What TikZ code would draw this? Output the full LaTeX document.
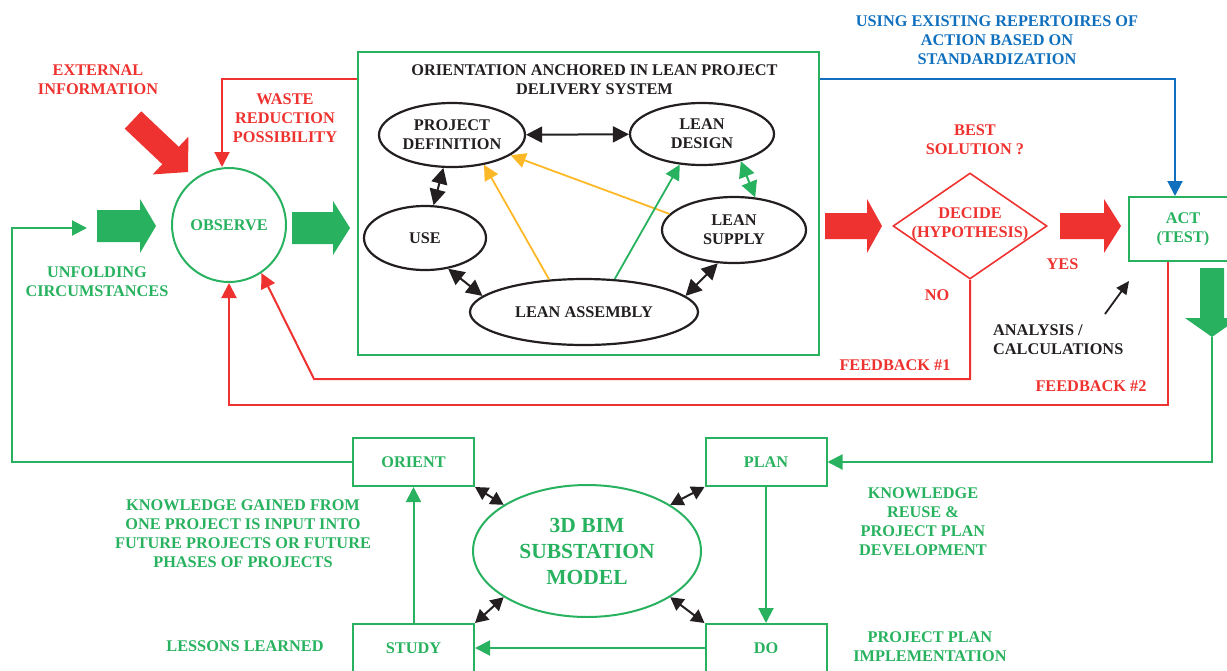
\documentclass[tikz,border=0pt]{standalone}
\usepackage{fontspec}
\setmainfont{Liberation Serif}
\usetikzlibrary{arrows.meta,shapes.geometric,calc}
\definecolor{cg}{RGB}{40,178,95}
\definecolor{cr}{RGB}{238,50,47}
\definecolor{cb}{RGB}{16,112,190}
\definecolor{co}{RGB}{253,184,39}
\definecolor{ck}{RGB}{35,31,32}
\tikzset{
  lbl/.style={font=\fontsize{16.3}{19}\selectfont\bfseries, align=center, inner sep=0pt},
  gbox/.style={draw=cg, line width=2pt, text=cg, lbl, minimum width=121pt, minimum height=48pt},
  bell/.style={ellipse, draw=ck, line width=2.2pt, text=ck, lbl},
  conn/.style={line width=2pt, -{Triangle[length=15pt,width=15pt]}},
  thin/.style={line width=1.8pt, -{Triangle[length=15pt,width=15pt]}},
  dbl/.style={line width=2pt, draw=ck, {Triangle[length=16pt,width=16pt]}-{Triangle[length=16pt,width=16pt]}},
  sdbl/.style={line width=2pt, draw=ck, {Triangle[length=13pt,width=14pt]}-{Triangle[length=13pt,width=14pt]}},
  pics/barrow/.style args={#1/#2/#3/#4}{code={
    \path[pic actions] (0,-#2) -- (#1-#4,-#2) -- (#1-#4,-#3) -- (#1,0) -- (#1-#4,#3) -- (#1-#4,#2) -- (0,#2) -- cycle;}}
}
\begin{document}
\begin{tikzpicture}[x=1pt,y=-1pt]
\useasboundingbox (0,0) rectangle (1227,670);
\clip (0,0) rectangle (1227,670);

% ---------- texts ----------
\node[lbl,text=cr] (extinfo) at (98,80) {EXTERNAL\\INFORMATION};
\node[lbl,text=cr] (waste) at (285,118.5) {WASTE\\REDUCTION\\POSSIBILITY};
\node[lbl,text=cg] (unfold) at (97,282) {UNFOLDING\\CIRCUMSTANCES};
\node[lbl,text=cb] (usingtxt) at (997,40) {USING EXISTING REPERTOIRES OF\\ACTION BASED ON\\STANDARDIZATION};
\node[lbl,text=cr] (best) at (975,139.5) {BEST\\SOLUTION ?};
\node[lbl,text=cr] (yes) at (1062.5,264.5) {YES};
\node[lbl,text=cr] (no) at (937,295.5) {NO};
\node[lbl,text=ck,anchor=west,align=left] (analysis) at (993,339.5) {ANALYSIS /\\CALCULATIONS};
\node[lbl,text=cr] (fb1txt) at (895,365) {FEEDBACK \#1};
\node[lbl,text=cr] (fb2txt) at (1091,386.5) {FEEDBACK \#2};
\node[lbl,text=cg] (kg) at (243,534) {KNOWLEDGE GAINED FROM\\ONE PROJECT IS INPUT INTO\\FUTURE PROJECTS OR FUTURE\\PHASES OF PROJECTS};
\node[lbl,text=cg] (lessons) at (245,646) {LESSONS LEARNED};
\node[lbl,text=cg] (kr) at (923,522) {KNOWLEDGE\\REUSE \&\\PROJECT PLAN\\DEVELOPMENT};
\node[lbl,text=cg] (ppi) at (930,647) {PROJECT PLAN\\IMPLEMENTATION};

% ---------- block arrows ----------
\pic[fill=cr, rotate=-43.4] at (133,120) {barrow={75.7/12/26/24}};
\pic[fill=cg] at (97,226) {barrow={59/16/27/16}};
\pic[fill=cg] at (292,228) {barrow={58/16/27/17}};
\pic[fill=cr] at (825,226) {barrow={57/13/27/15}};
\pic[fill=cr] at (1060,226) {barrow={61/13/27/17}};
\pic[fill=cg, rotate=-90] at (1212,268) {barrow={69/12/27/19}};

% ---------- main nodes ----------
\node[circle, draw=cg, line width=2pt, minimum size=114pt, text=cg, lbl] (obs) at (229,225) {OBSERVE};
\node[draw=cg, line width=2pt, minimum width=461pt, minimum height=303pt, inner sep=0pt] (inner) at (588.5,203.5) {};
\node[lbl,text=ck] (title) at (594.5,80) {ORIENTATION ANCHORED IN LEAN PROJECT\\DELIVERY SYSTEM};
\node[bell, minimum width=146pt, minimum height=64pt] (pd) at (452,135) {PROJECT\\DEFINITION};
\node[bell, minimum width=144pt, minimum height=62pt] (ld) at (702,134) {LEAN\\DESIGN};
\node[bell, minimum width=122pt, minimum height=64pt] (use) at (425,238) {USE};
\node[bell, minimum width=144pt, minimum height=66pt] (ls) at (734,230) {LEAN\\SUPPLY};
\node[bell, minimum width=228pt, minimum height=66pt] (la) at (584,312) {LEAN ASSEMBLY};
\node[diamond, draw=cr, line width=1.6pt, minimum width=154pt, minimum height=106pt, inner sep=0pt] (dec) at (970,226) {};
\node[lbl,text=cr] (dectxt) at (970,224) {DECIDE\\(HYPOTHESIS)};
\node[draw=cg, line width=2pt, minimum width=108pt, minimum height=64pt, text=cg, lbl] (act) at (1183,229) {ACT\\(TEST)};

% bottom
\node[gbox] (orient) at (413.5,462) {ORIENT};
\node[gbox] (plan) at (766,462) {PLAN};
\node[gbox] (study) at (413.5,648) {STUDY};
\node[gbox] (do) at (766,648) {DO};
\node[ellipse, draw=cg, line width=2pt, minimum width=228pt, minimum height=132pt, text=cg,
      font=\fontsize{21.5}{26}\selectfont\bfseries, align=center, inner sep=0pt] (bim) at (587,551) {3D BIM\\SUBSTATION\\MODEL};

% ---------- coordinates ----------
\coordinate (wy) at (0,79);
\coordinate (uf) at (87,228);
\coordinate (fb1) at (314,379);
\coordinate (fb2) at (229,405);
\coordinate (an) at (1105,314);
\coordinate (antip) at (1129,281);
\coordinate (dtip) at (1212,337);

% ---------- connectors ----------
\draw[conn, draw=cr] (inner.west |- wy) -| ([xshift=-7pt]obs.north);
\draw[conn, draw=cb] (inner.east |- wy) -| ([xshift=-8pt]act.north);
\draw[conn, draw=cr] (dec.south) |- (fb1) -- (obs.-56);
\draw[conn, draw=cr] ([xshift=-15pt]act.south) |- (fb2) -- (obs.south);
\draw[conn, draw=cg] (orient.west) -| (12,228) -- (uf);
\draw[conn, draw=cg] (dtip) |- (plan.east);
\draw[line width=1.8pt, draw=ck, -{Triangle[length=13pt,width=12pt]}] (an) -- (antip);

% inner arrows
\draw[dbl] (pd) -- (ld);
\draw[dbl] (pd) -- (use);
\draw[dbl, draw=cg] (ld.-35) -- (ls.57);
\draw[dbl] (use.-53) -- (la.171);
\draw[dbl] (ls.-116) -- (la.9);
\draw[thin, draw=co] (la.137) -- (pd.-43);
\draw[thin, draw=co] (ls.166) -- (pd.-19);
\draw[thin, draw=cg] (la.47) -- (ld.-126);

% bottom arrows
\draw[sdbl] (orient.south east) -- (bim.151);
\draw[sdbl] (study.north east) -- (bim.-151);
\draw[sdbl] (plan.south west) -- (bim.29);
\draw[sdbl] (do.north west) -- (bim.-29);
\draw[conn, draw=cg] (plan.south) -- (do.north);
\draw[conn, draw=cg] (do.west) -- (study.east);
\draw[conn, draw=cg] (study.north) -- (orient.south);
\end{tikzpicture}
\end{document}
